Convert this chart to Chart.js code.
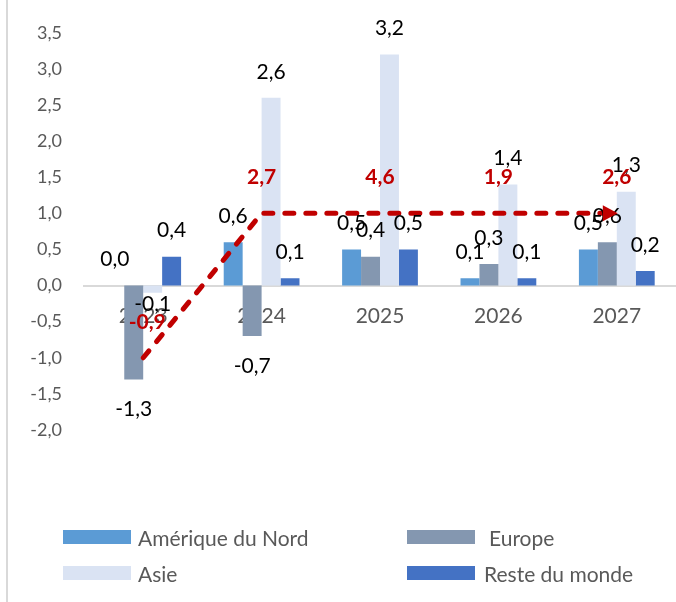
<!DOCTYPE html>
<html>
<head>
<meta charset="utf-8">
<script src="https://cdn.jsdelivr.net/npm/chart.js@4.4.1/dist/chart.umd.min.js"></script>
<style>
  html, body { margin: 0; padding: 0; background: #fff; }
  #wrap { position: relative; width: 676px; height: 602px; overflow: hidden; background: #fff; }
  #leftline { position: absolute; left: 6px; top: 0; width: 2px; height: 602px; background: #d9d9d9; }
  #chart { position: absolute; left: 0; top: 0; }
  .lg-item { position: absolute; height: 26px; display: flex; align-items: center; font-family: Lato, sans-serif; font-size: 21px; color: #595959; white-space: nowrap; }
  .lg-box { width: 68px; height: 14px; margin-right: 7px; }
</style>
</head>
<body>
<div id="wrap">
  <canvas id="chart" width="676" height="602"></canvas>
  <div id="leftline"></div>
  <div id="legend"></div>
</div>
<script>
// ---- data ----
const categories = ['2023', '2024', '2025', '2026', '2027'];
const ameriqueNord = [0.0, 0.6, 0.5, 0.1, 0.5];
const europe = [-1.3, -0.7, 0.4, 0.3, 0.6];
const asie = [-0.1, 2.6, 3.2, 1.4, 1.3];
const resteMonde = [0.4, 0.1, 0.5, 0.1, 0.2];
const totals = [-0.9, 2.7, 4.6, 1.9, 2.6];
const arrowPath = [-1.0, 1.0, 1.0, 1.0, 1.0];
const yMin = -2.0, yMax = 3.5, yStep = 0.5;
const seriesNames = ['Amérique du Nord', 'Europe', 'Asie', 'Reste du monde'];
const seriesColors = ['#5B9BD5', '#8497B0', '#DAE3F3', '#4472C4'];
const seriesValues = [ameriqueNord, europe, asie, resteMonde];

const fmt = v => v.toFixed(1).replace('.', ',').replace('-0,0', '0,0');

const barLabelPlugin = {
  id: 'barLabels',
  afterDatasetsDraw(chart) {
    const ctx = chart.ctx;
    ctx.save();
    ctx.textAlign = 'center';
    ctx.textBaseline = 'middle';
    ctx.font = '21px Lato';
    ctx.fillStyle = '#000000';
    chart.data.datasets.forEach((ds, i) => {
      if (ds.type === 'line') return;
      const meta = chart.getDatasetMeta(i);
      meta.data.forEach((el, j) => {
        const v = ds.data[j];
        let y;
        if (v >= 0) y = el.y - 26;
        else y = el.y + (v > -0.3 ? 11 : 30);
        ctx.fillText(fmt(v), el.x, y);
      });
    });
    chart.data.datasets.forEach((ds, i) => {
      if (ds.type !== 'line') return;
      const meta = chart.getDatasetMeta(i);
      ctx.font = 'bold 21px Lato';
      ctx.fillStyle = '#C00000';
      meta.data.forEach((el, j) => {
        ctx.fillText(fmt(totals[j]), el.x + (j === 0 ? 4 : 0), el.y - 36);
      });
      const last = meta.data[meta.data.length - 1];
      ctx.beginPath();
      ctx.moveTo(last.x + 1, last.y);
      ctx.lineTo(last.x - 14, last.y - 8);
      ctx.lineTo(last.x - 14, last.y + 8);
      ctx.closePath();
      ctx.fillStyle = '#C00000';
      ctx.fill();
    });
    ctx.restore();
  }
};

const datasets = seriesNames.map((name, i) => ({
  type: 'bar',
  label: name,
  data: seriesValues[i],
  backgroundColor: seriesColors[i],
  borderWidth: 0,
  barPercentage: 1.0,
  categoryPercentage: 0.64,
  order: 1
}));
datasets.push({
  type: 'line',
  label: 'Total',
  data: arrowPath,
  borderColor: '#C00000',
  borderWidth: 5,
  borderDash: [9, 12],
  borderCapStyle: 'round',
  pointRadius: 0,
  fill: false,
  tension: 0,
  order: 0
});

new Chart(document.getElementById('chart'), {
  type: 'bar',
  data: { labels: categories, datasets },
  options: {
    responsive: false,
    animation: false,
    devicePixelRatio: 1,
    layout: { padding: { left: 8, top: 28, right: 0, bottom: 172 } },
    plugins: { legend: { display: false }, tooltip: { enabled: false } },
    scales: {
      x: {
        position: { y: 0 },
        grid: { display: false, drawTicks: false },
        border: { display: true, color: '#d9d9d9', width: 2 },
        ticks: { color: '#595959', font: { family: 'Lato', size: 21 }, padding: 18, maxRotation: 0 }
      },
      y: {
        min: yMin, max: yMax,
        grid: { display: false, drawTicks: false },
        border: { display: false },
        afterFit: s => { s.width = 76; },
        ticks: {
          stepSize: yStep,
          padding: 22,
          color: '#595959',
          font: { family: 'Lato', size: 18 },
          callback: v => fmt(v)
        }
      }
    }
  },
  plugins: [barLabelPlugin]
});

// HTML legend (two columns)
const legendPos = [[63, 537], [407, 537], [63, 573], [407, 573]];
const lg = document.getElementById('legend');
seriesNames.forEach((name, i) => {
  const item = document.createElement('div');
  item.className = 'lg-item';
  item.style.left = legendPos[i][0] + 'px';
  item.style.top = (legendPos[i][1] - 13) + 'px';
  const box = document.createElement('span');
  box.className = 'lg-box';
  box.style.background = seriesColors[i];
  if (i === 1) box.style.marginRight = '14px';
  if (i === 3) box.style.marginRight = '9px';
  const txt = document.createElement('span');
  txt.textContent = name;
  item.appendChild(box);
  item.appendChild(txt);
  lg.appendChild(item);
});
</script>
</body>
</html>
